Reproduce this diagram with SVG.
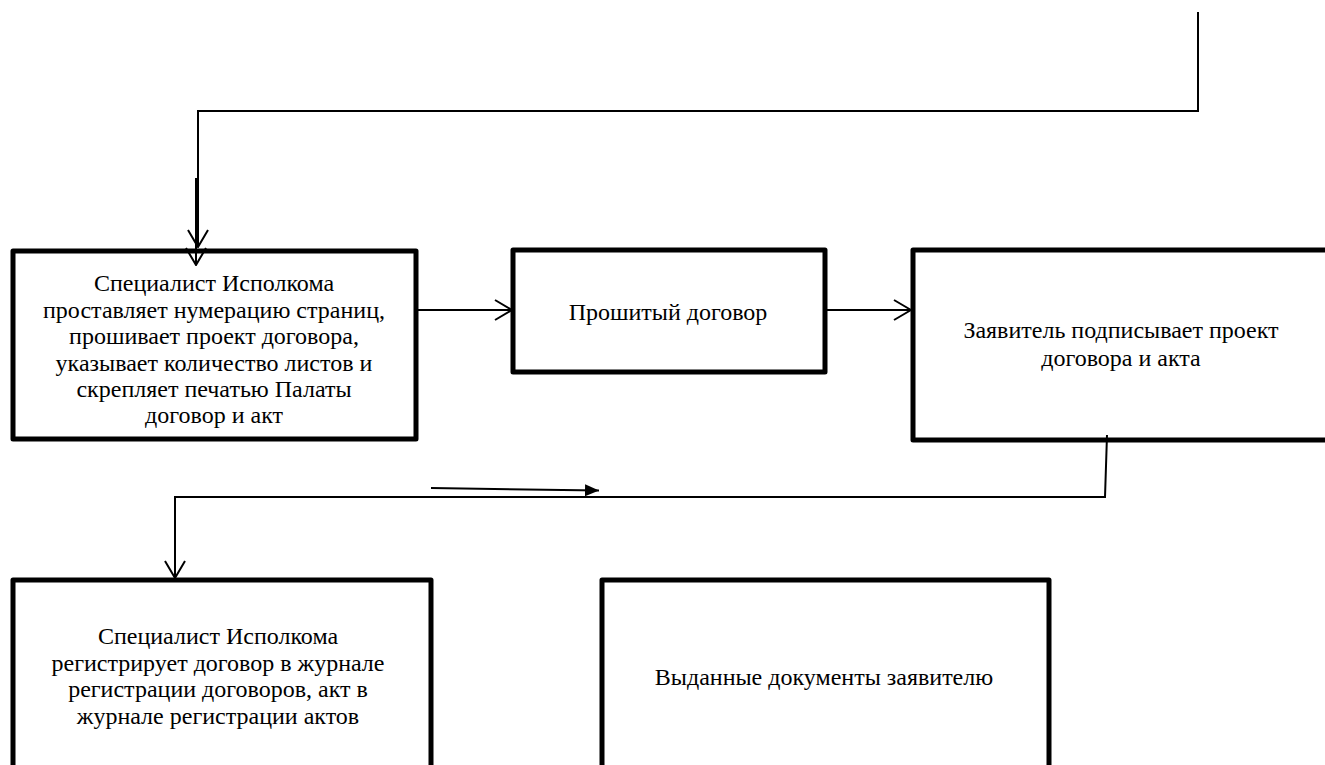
<svg xmlns="http://www.w3.org/2000/svg" width="1325" height="765" viewBox="0 0 1325 765">
<defs>
<style>
.box{fill:#fff;stroke:#000;stroke-width:5;stroke-linejoin:round}
.ln{fill:none;stroke:#000;stroke-width:2}
text{font-family:'Liberation Serif','Times New Roman','DejaVu Serif',serif;font-size:24px;fill:#000;text-anchor:middle}
</style>
<marker id="open" viewBox="0 0 20 24" refX="19" refY="12" markerWidth="20" markerHeight="24" markerUnits="userSpaceOnUse" orient="auto">
<path d="M2,2 L19,12 L2,22" fill="none" stroke="#000" stroke-width="2"/>
</marker>
<marker id="solid" viewBox="0 0 14 12" refX="14" refY="6" markerWidth="14" markerHeight="12" markerUnits="userSpaceOnUse" orient="auto">
<path d="M0,0 L14,6 L0,12 Z" fill="#000"/>
</marker>
</defs>
<rect width="1325" height="765" fill="#fff"/>
<g id="node1" font-family="Liberation Serif, serif">
<rect class="box" x="13" y="251" width="403" height="188"/>
<text x="214" y="291">Специалист Исполкома</text>
<text x="214" y="317.5">проставляет нумерацию страниц,</text>
<text x="214" y="344">прошивает проект договора,</text>
<text x="214" y="370.5">указывает количество листов и</text>
<text x="214" y="397">скрепляет печатью Палаты</text>
<text x="214" y="423">договор и акт</text>
</g>
<g id="node2">
<rect class="box" x="513" y="250" width="312" height="122"/>
<text x="668" y="320">Прошитый договор</text>
</g>
<g id="node3">
<rect class="box" x="913" y="250" width="420" height="190"/>
<text x="1121" y="338">Заявитель подписывает проект</text>
<text x="1121" y="366">договора и акта</text>
</g>
<g id="node4">
<rect class="box" x="13" y="580" width="418" height="200"/>
<text x="218" y="644">Специалист Исполкома</text>
<text x="218" y="670.7">регистрирует договор в журнале</text>
<text x="218" y="697">регистрации договоров, акт в</text>
<text x="218" y="724">журнале регистрации актов</text>
</g>
<g id="node5">
<rect class="box" x="602" y="580" width="447" height="200"/>
<text x="824" y="685">Выданные документы заявителю</text>
</g>
<g id="connectors">
<polyline class="ln" points="1198,12 1198,111 198,111 198,247" marker-end="url(#open)"/>
<line class="ln" x1="196" y1="178" x2="196" y2="265" stroke-width="2.5" marker-end="url(#open)"/>
<line class="ln" x1="416" y1="310" x2="512" y2="310" marker-end="url(#open)"/>
<line class="ln" x1="825" y1="310" x2="911" y2="310" marker-end="url(#open)"/>
<polyline class="ln" points="1107,435 1105,497 175,497 175,578" marker-end="url(#open)"/>
<line class="ln" x1="431" y1="488" x2="599" y2="490.5" marker-end="url(#solid)"/>
</g>
</svg>
